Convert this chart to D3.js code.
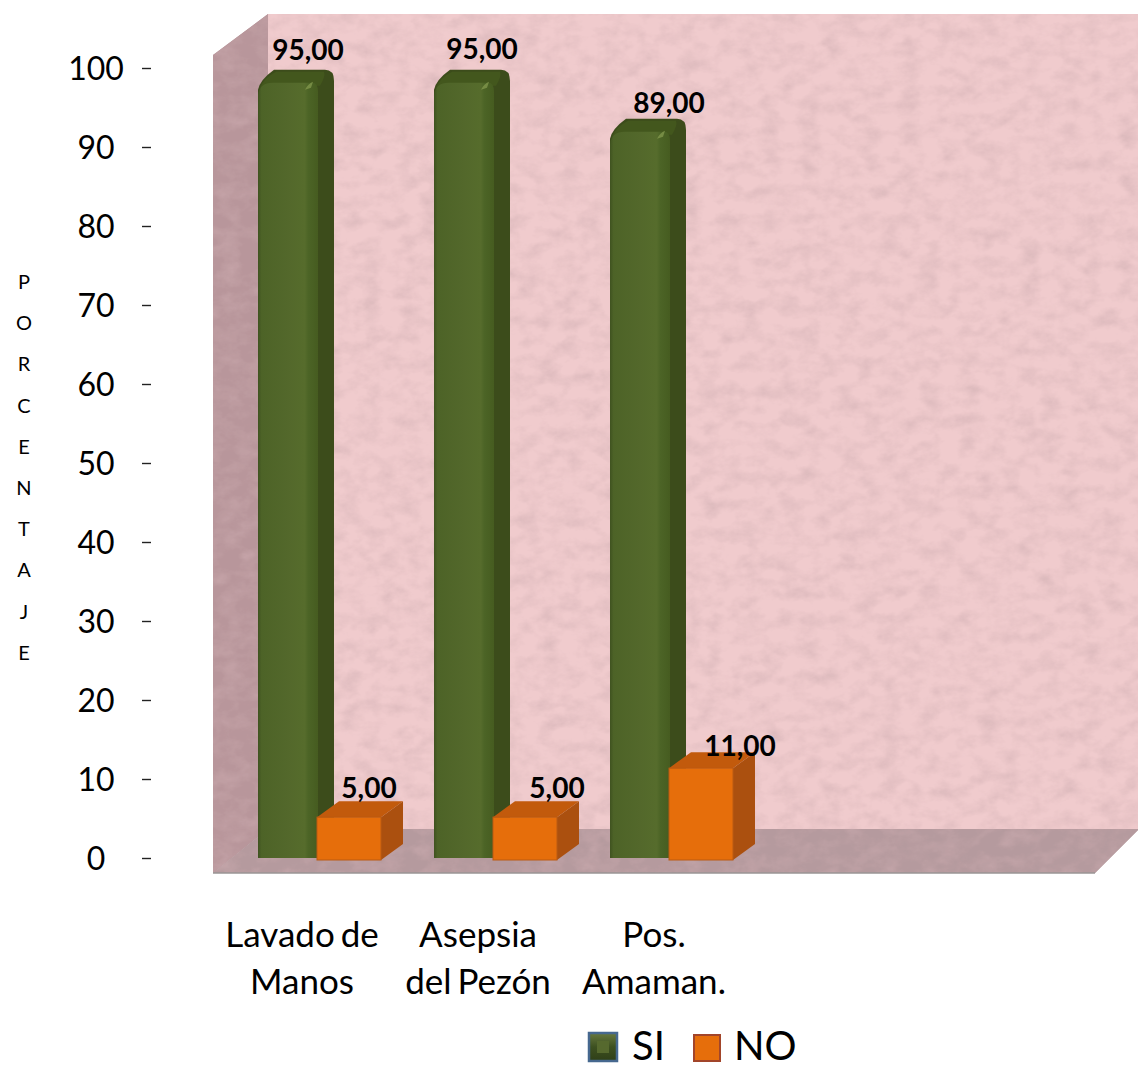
<!doctype html>
<html>
<head>
  <meta charset="utf-8">
  <title>Porcentaje SI / NO</title>
  <script src="https://cdnjs.cloudflare.com/ajax/libs/d3/7.8.5/d3.min.js"></script>
  <style>
    html, body { margin: 0; background: #fff; }
    svg { display: block; }
    text { font-family: Lato, sans-serif; fill: #000; }
  </style>
</head>
<body>
  <div id="chart"></div>
  <script>
    const categories = [["Lavado de", "Manos"], ["Asepsia", "del Pezón"], ["Pos.", "Amaman."]];
    const siValues = [95, 95, 89];
    const noValues = [5, 5, 11];
    const tickValues = [0, 10, 20, 30, 40, 50, 60, 70, 80, 90, 100];
    const axisTitle = "PORCENTAJE";
    const legendNames = ["SI", "NO"];

    // hand placed value labels: shift from the middle of each column
    const siLabelShift = [[20, -22], [18, -23], [29, -18]];
    const noLabelShift = [[20, -19], [32, -19], [39, -12]];

    const svg = d3.select("#chart").append("svg").attr("width", 1138).attr("height", 1068);
    const defs = svg.append("defs");

    // mottled paper look for the walls
    const paper = defs.append("filter").attr("id", "paper")
      .attr("x", 0).attr("y", 0).attr("width", 1).attr("height", 1);
    paper.append("feTurbulence").attr("type", "fractalNoise").attr("baseFrequency", "0.05 0.07")
      .attr("numOctaves", 5).attr("seed", 11).attr("result", "noise");
    paper.append("feColorMatrix").attr("in", "noise").attr("type", "matrix")
      .attr("values", "0 0 0 0 0.62  0 0 0 0 0.42  0 0 0 0 0.44  0.7 0.7 0 0 -0.58")
      .attr("result", "spots");
    paper.append("feComposite").attr("in", "spots").attr("in2", "SourceGraphic").attr("operator", "atop").attr("result", "mix");
    paper.append("feMerge").call(m => {
      m.append("feMergeNode").attr("in", "SourceGraphic");
      m.append("feMergeNode").attr("in", "mix");
    });

    const greenFront = defs.append("linearGradient").attr("id", "greenFront");
    [[0, "#3f5220"], [0.06, "#4d6327"], [0.5, "#53682b"], [0.78, "#566c2c"], [0.84, "#4c6426"], [1, "#465c20"]]
      .forEach(s => greenFront.append("stop").attr("offset", s[0]).attr("stop-color", s[1]));

    const bevel = defs.append("linearGradient").attr("id", "swatchBevel")
      .attr("x1", 0).attr("y1", 0).attr("x2", 0).attr("y2", 1);
    [[0, "#68793f"], [0.5, "#3d5020"], [1, "#2f3f18"]]
      .forEach(s => bevel.append("stop").attr("offset", s[0]).attr("stop-color", s[1]));

    // plot box
    const wallTop = 14, wallBottom = 829, wallLeft = 268, wallRight = 1138;
    const frontLeft = 213, frontBottom = 873, frontRight = 1095, frontTop = 55;
    const line = d3.line();
    const wall = svg.append("g");
    wall.append("rect").attr("x", wallLeft).attr("y", wallTop)
      .attr("width", wallRight - wallLeft).attr("height", wallBottom - wallTop)
      .attr("fill", "#f0cbcd").attr("filter", "url(#paper)");
    wall.append("path").attr("fill", "#b8969b").attr("filter", "url(#paper)")
      .attr("d", line([[frontLeft, frontTop], [wallLeft, wallTop], [wallLeft, wallBottom], [frontLeft, frontBottom]]) + "Z");
    wall.append("path").attr("fill", "#b59a9e").attr("filter", "url(#paper)")
      .attr("d", line([[wallLeft, wallBottom], [wallRight, wallBottom], [wallRight, 830], [frontRight, frontBottom], [frontLeft, frontBottom]]) + "Z");
    wall.append("line").attr("x1", frontLeft).attr("x2", frontRight)
      .attr("y1", frontBottom).attr("y2", frontBottom).attr("stroke", "#9a9494").attr("stroke-width", 1.5);

    // scales: the printed ticks and the drawn columns have slightly different spans
    const yTicks = d3.scaleLinear().domain([0, 100]).range([858, 68]);
    const yBars = d3.scaleLinear().domain([0, 100]).range([858, 41]);
    const x0 = d3.scaleBand().domain(d3.range(categories.length)).range([235, 763]);

    const axis = d3.axisLeft(yTicks).tickValues(tickValues).tickSize(9).tickFormat(d3.format("d"));
    const axisG = svg.append("g").attr("transform", "translate(151,0)").call(axis);
    axisG.select(".domain").remove();
    axisG.selectAll("line").attr("stroke", "#222").attr("stroke-width", 1.4);
    axisG.selectAll("text").attr("x", -55).attr("dy", "0.35em")
      .attr("text-anchor", "middle").style("font-family", "Lato, sans-serif")
      .style("font-size", "32px").attr("fill", "#000");

    svg.append("g").selectAll("text").data(axisTitle.split("")).join("text")
      .attr("x", 24).attr("y", (d, i) => 289 + i * 41.2)
      .attr("text-anchor", "middle").attr("font-size", 20).text(d => d);

    // green columns, rounded top with a darker side
    const siW = 60, siDx = 16, siDy = 12;
    const si = svg.append("g").selectAll("g").data(siValues).join("g")
      .attr("transform", (d, i) => `translate(${x0(i) + 23},0)`);
    si.append("path").attr("fill", "#3c4c1b").attr("d", d => {
      const t = yBars(d), b = yBars(0);
      return `M0 ${t + 8} Q2 ${t - 2} 16 ${t - siDy} L${siW + siDx - 9} ${t - siDy} Q${siW + siDx} ${t - siDy} ${siW + siDx} ${t - 1}`
        + ` L${siW + siDx} ${b - siDy} L${siW} ${b} L0 ${b}Z`;
    });
    // top face fades into the front
    si.append("path").attr("fill", "#43571d").attr("d", d => {
      const t = yBars(d);
      return `M2 ${t + 6} Q6 ${t - 4} 18 ${t - siDy + 2} L${siW + 6} ${t - siDy + 2} Q${siW + 8} ${t - 6} ${siW + 2} ${t + 4}Z`;
    });
    si.append("path").attr("fill", "url(#greenFront)").attr("d", d => {
      const t = yBars(d), b = yBars(0);
      return `M0 ${b} L0 ${t + 14} Q1 ${t + 1} 15 ${t + 1} L${siW - 6} ${t + 1} Q${siW} ${t + 1} ${siW} ${t + 10} L${siW} ${b}Z`;
    });
    si.append("path").attr("fill", "#84994f").attr("opacity", 0.75).attr("d", d => {
      const t = yBars(d);
      return `M${siW - 13} ${t + 8} Q${siW - 10} ${t + 2} ${siW - 5} ${t} L${siW - 7} ${t + 6}Z`;
    });

    // orange boxes
    const noW = 64, noDx = 22, noDy = 16, noBase = 2;
    const no = svg.append("g").selectAll("g").data(noValues).join("g")
      .attr("transform", (d, i) => `translate(${x0(i) + 82},0)`);
    no.append("path").attr("fill", "#c25a0c").attr("d", d => {
      const t = yBars(d);
      return line([[0, t], [noDx, t - noDy], [noW + noDx, t - noDy], [noW, t]]) + "Z";
    });
    no.append("path").attr("fill", "#ab500f").attr("d", d => {
      const t = yBars(d), b = yBars(0) + noBase;
      return line([[noW, t], [noW + noDx, t - noDy], [noW + noDx, b - noDy], [noW, b]]) + "Z";
    });
    no.append("rect").attr("y", d => yBars(d)).attr("width", noW)
      .attr("height", d => yBars(0) + noBase - yBars(d))
      .attr("fill", "#e66e0b").attr("stroke", "#bb5a12").attr("stroke-width", 1);

    // value labels
    const valueFmt = v => d3.format(".2f")(v).replace(".", ",");
    svg.append("g").selectAll("text").data(siValues).join("text")
      .attr("x", (d, i) => x0(i) + 23 + siW / 2 + siLabelShift[i][0])
      .attr("y", (d, i) => yBars(d) + siLabelShift[i][1])
      .attr("text-anchor", "middle").attr("font-weight", 700).attr("font-size", 28).text(valueFmt);
    svg.append("g").selectAll("text").data(noValues).join("text")
      .attr("x", (d, i) => x0(i) + 82 + noW / 2 + noLabelShift[i][0])
      .attr("y", (d, i) => yBars(d) + noLabelShift[i][1])
      .attr("text-anchor", "middle").attr("font-weight", 700).attr("font-size", 28).text(valueFmt);

    // category labels, two lines each
    const catG = svg.append("g").selectAll("g").data(categories).join("g")
      .attr("transform", (d, i) => `translate(${x0(i) + 67},0)`);
    catG.selectAll("text").data(d => d).join("text")
      .attr("y", (d, i) => 947 + i * 47).attr("text-anchor", "middle")
      .attr("font-size", 35).attr("word-spacing", -3).text(d => d);

    // legend
    const legend = svg.append("g");
    legend.append("rect").attr("x", 589).attr("y", 1033).attr("width", 28).attr("height", 28)
      .attr("fill", "url(#swatchBevel)").attr("stroke", "#46688f").attr("stroke-width", 2.5);
    legend.append("rect").attr("x", 597).attr("y", 1041).attr("width", 12).attr("height", 12)
      .attr("fill", "#56692e");
    legend.append("rect").attr("x", 694).attr("y", 1035).attr("width", 26).attr("height", 26)
      .attr("fill", "#e66e0b").attr("stroke", "#a2452a").attr("stroke-width", 2);
    legend.selectAll("text").data(legendNames).join("text")
      .attr("x", (d, i) => i === 0 ? 632 : 734).attr("y", 1059.5)
      .attr("font-size", 40).text(d => d);
  </script>
</body>
</html>
